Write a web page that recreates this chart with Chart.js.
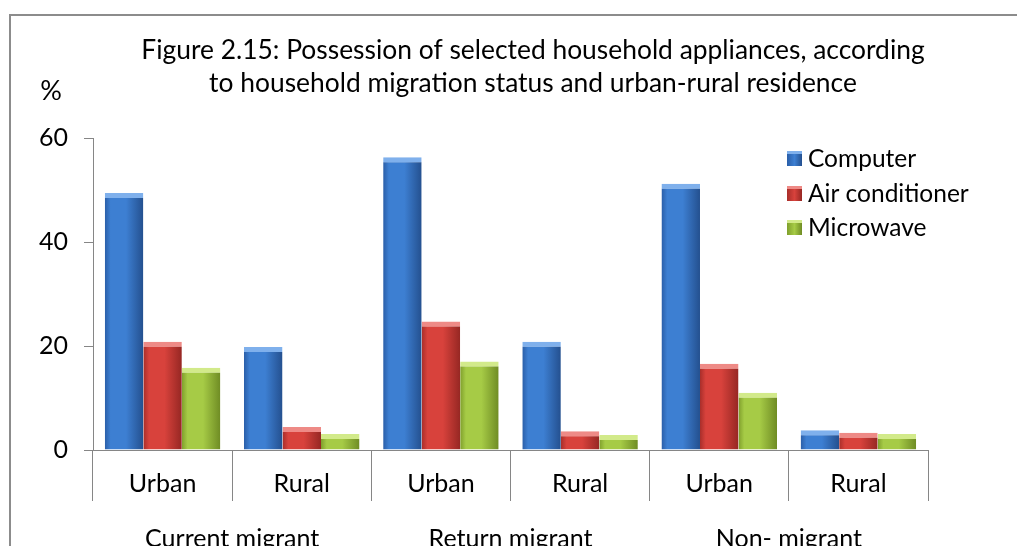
<!DOCTYPE html>
<html lang="en">
<head>
  <meta charset="UTF-8" />
  <title>Figure 2.15</title>
  <script src="https://cdn.jsdelivr.net/npm/chart.js"></script>
  <style>
    html, body { margin: 0; padding: 0; background: #fff; }
    #wrap { width: 1017px; height: 546px; position: relative; }
  </style>
</head>
<body>
  <div id="wrap"><canvas id="grafik"></canvas></div>

  <script>
    const categories = ['Urban', 'Rural', 'Urban', 'Rural', 'Urban', 'Rural'];
    const groups = ['Current migrant', 'Return migrant', 'Non- migrant'];
    const computer = [49.4, 19.8, 56.3, 20.8, 51.2, 3.8];
    const airConditioner = [20.8, 4.4, 24.7, 3.6, 16.6, 3.3];
    const microwave = [15.8, 3.1, 17.0, 2.9, 11.0, 3.1];
    const seriesNames = ['Computer', 'Air conditioner', 'Microwave'];
    const titleLines = [
      'Figure 2.15: Possession of selected household appliances, according',
      'to household migration status and urban-rural residence'
    ];

    const FONT = "Lato, 'Liberation Sans', sans-serif";
    const FS = 25;
    const AXIS = '#868686';

    // dark edge, light face, darker right edge, lighter top bevel
    const palette = [
      { edge: '#2a5ea8', face: '#3d7fd2', dark: '#24508f', top: '#7fb0ec' },
      { edge: '#a82e2a', face: '#d8423c', dark: '#962723', top: '#ee8a86' },
      { edge: '#7f9f2c', face: '#a6cb46', dark: '#6f8c24', top: '#d2ea8a' }
    ];

    function shade(p) {
      return ctx => {
        const bar = ctx.element;
        if (ctx.type !== 'data' || !bar || bar.x === undefined || !bar.width) return p.face;
        const half = bar.width / 2;
        const g = ctx.chart.ctx.createLinearGradient(bar.x - half, 0, bar.x + half, 0);
        g.addColorStop(0, p.edge);
        g.addColorStop(0.15, p.face);
        g.addColorStop(0.55, p.face);
        g.addColorStop(1, p.dark);
        return g;
      };
    }

    const extras = {
      id: 'extras',
      beforeDraw(chart) {
        const c = chart.ctx;
        c.save();
        c.strokeStyle = '#8c8c8c';
        c.lineWidth = 2;
        c.strokeRect(10, 15, 1100, 600);
        c.restore();
      },
      afterDraw(chart) {
        const c = chart.ctx;
        c.save();
        c.fillStyle = '#000';
        c.font = '26.4px ' + FONT;
        c.textAlign = 'center';
        c.textBaseline = 'alphabetic';
        c.fillText(titleLines[0], 533, 59);
        c.fillText(titleLines[1], 533, 92);
        c.font = '27px ' + FONT;
        c.fillText('%', 51, 100);

        // legend
        c.font = '24.5px ' + FONT;
        c.textAlign = 'left';
        c.textBaseline = 'middle';
        const rows = [158, 193, 227];
        chart.data.datasets.forEach((ds, i) => {
          const p = palette[i];
          const g = c.createLinearGradient(787, 0, 802, 0);
          g.addColorStop(0, p.edge);
          g.addColorStop(0.5, p.face);
          g.addColorStop(1, p.dark);
          c.fillStyle = g;
          c.fillRect(787, rows[i] - 7, 15, 15);
          c.fillStyle = p.top;
          c.fillRect(787, rows[i] - 7, 15, 3);
          c.fillStyle = '#000';
          c.fillText(ds.label, 808, rows[i] + 1);
        });
        c.restore();
      }
    };

    const series = [computer, airConditioner, microwave];

    const chart = new Chart(document.getElementById('grafik'), {
      type: 'bar',
      data: {
        labels: categories,
        datasets: series.map((data, i) => ({
          label: seriesNames[i],
          data,
          backgroundColor: shade(palette[i]),
          borderColor: palette[i].top,
          borderWidth: { top: 5, left: 0, right: 0, bottom: 0 },
          borderSkipped: false,
          barPercentage: 1,
          categoryPercentage: 0.83
        }))
      },
      options: {
        responsive: true,
        maintainAspectRatio: false,
        animation: false,
        layout: { padding: { left: 0, top: 138, right: 89, bottom: 0 } },
        plugins: {
          legend: { display: false },
          title: { display: false },
          tooltip: { enabled: false }
        },
        scales: {
          x: {
            position: 'bottom',
            grid: {
              offset: true,
              drawOnChartArea: false,
              drawTicks: true,
              tickLength: 51,
              color: AXIS
            },
            border: { display: true, color: AXIS, width: 1 },
            ticks: {
              color: '#000',
              font: { family: FONT, size: FS },
              padding: -32,
              maxRotation: 0
            },
            afterFit: s => { s.height = 60; }
          },
          x2: {
            type: 'category',
            position: 'bottom',
            labels: groups,
            offset: true,
            grid: { display: false },
            border: { display: false },
            ticks: {
              color: '#000',
              font: { family: FONT, size: FS },
              padding: 6,
              maxRotation: 0
            },
            afterFit: s => { s.height = 36; }
          },
          y: {
            min: 0,
            max: 60,
            ticks: {
              stepSize: 20,
              color: '#000',
              font: { family: FONT, size: FS },
              padding: 16
            },
            grid: {
              drawOnChartArea: false,
              drawTicks: true,
              tickLength: 9,
              color: AXIS
            },
            border: { display: true, color: AXIS, width: 1 },
            afterFit: s => { s.width = 93; }
          }
        }
      },
      plugins: [extras]
    });

    // second pass so the gradients know each bar's position
    chart.update();
  </script>
</body>
</html>
